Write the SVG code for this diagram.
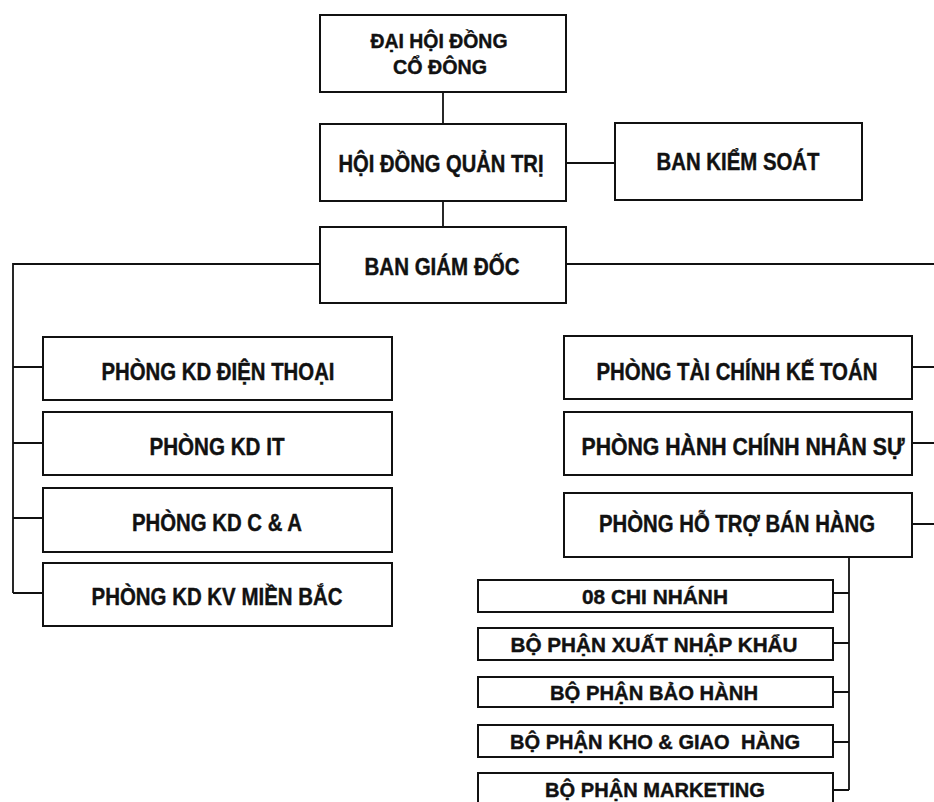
<svg xmlns="http://www.w3.org/2000/svg" width="934" height="802" viewBox="0 0 934 802">
<style>
.box{fill:#fff;stroke:#111;stroke-width:2}
.t{font-family:"Liberation Sans",Arial,sans-serif;font-weight:bold;font-size:23px;fill:#111;stroke:#111;stroke-width:0.4;text-anchor:middle;white-space:pre}
.s{font-size:21px}
.h{font-size:20px}
.c{fill:none;stroke:#111;stroke-width:1.8}
</style>
<rect width="934" height="802" fill="#fff"/>
<g id="connectors" class="c">
<path d="M443,92V124"/>
<path d="M566,163H615"/>
<path d="M443,201V227"/>
<path d="M320,264H13V593"/>
<path d="M13,367H43M13,443H43M13,518H43M13,593H43"/>
<path d="M566,264H934"/>
<path d="M912,367H934M912,443H934M912,524H934"/>
<path d="M849,557V790"/>
<path d="M833,593H849M833,643H849M833,692H849M833,742H849M833,790H849"/>
</g>
<g id="dhdcd"><rect class="box" x="320" y="15" width="246" height="77"/>
<text class="t h" x="439" y="48" textLength="137" lengthAdjust="spacingAndGlyphs">ĐẠI HỘI ĐỒNG</text>
<text class="t h" x="440" y="74" textLength="94" lengthAdjust="spacingAndGlyphs">CỔ ĐÔNG</text></g>
<g id="hdqt"><rect class="box" x="320" y="124" width="246" height="77"/>
<text class="t" x="441" y="172" textLength="205" lengthAdjust="spacingAndGlyphs">HỘI ĐỒNG QUẢN TRỊ</text></g>
<g id="bks"><rect class="box" x="615" y="123" width="247" height="77"/>
<text class="t" x="738" y="170" textLength="163" lengthAdjust="spacingAndGlyphs">BAN KIỂM SOÁT</text></g>
<g id="bgd"><rect class="box" x="320" y="227" width="246" height="76"/>
<text class="t" x="442" y="275" textLength="155" lengthAdjust="spacingAndGlyphs">BAN GIÁM ĐỐC</text></g>
<g id="kd-dt"><rect class="box" x="43" y="337" width="349" height="63"/>
<text class="t" x="218" y="380" textLength="233" lengthAdjust="spacingAndGlyphs">PHÒNG KD ĐIỆN THOẠI</text></g>
<g id="kd-it"><rect class="box" x="43" y="412" width="349" height="63"/>
<text class="t" x="217" y="455" textLength="135" lengthAdjust="spacingAndGlyphs">PHÒNG KD IT</text></g>
<g id="kd-ca"><rect class="box" x="43" y="488" width="349" height="64"/>
<text class="t" x="217" y="531" textLength="170" lengthAdjust="spacingAndGlyphs">PHÒNG KD C &amp; A</text></g>
<g id="kd-mb"><rect class="box" x="43" y="563" width="349" height="63"/>
<text class="t" x="217" y="605" textLength="251" lengthAdjust="spacingAndGlyphs">PHÒNG KD KV MIỀN BẮC</text></g>
<g id="tckt"><rect class="box" x="564" y="336" width="348" height="63"/>
<text class="t" x="737" y="380" textLength="281" lengthAdjust="spacingAndGlyphs">PHÒNG TÀI CHÍNH KẾ TOÁN</text></g>
<g id="hcns"><rect class="box" x="564" y="412" width="348" height="63"/>
<text class="t" x="743" y="455" textLength="323" lengthAdjust="spacingAndGlyphs">PHÒNG HÀNH CHÍNH NHÂN SỰ</text></g>
<g id="htbh"><rect class="box" x="564" y="493" width="348" height="64"/>
<text class="t" x="737" y="532" textLength="276" lengthAdjust="spacingAndGlyphs">PHÒNG HỖ TRỢ BÁN HÀNG</text></g>
<g id="cn"><rect class="box" x="478" y="580" width="355" height="32"/>
<text class="t s" x="655" y="604" textLength="146" lengthAdjust="spacingAndGlyphs">08 CHI NHÁNH</text></g>
<g id="xnk"><rect class="box" x="478" y="628" width="355" height="32"/>
<text class="t s" x="654" y="652" textLength="287" lengthAdjust="spacingAndGlyphs">BỘ PHẬN XUẤT NHẬP KHẨU</text></g>
<g id="bh"><rect class="box" x="478" y="677" width="355" height="30"/>
<text class="t s" x="654" y="700" textLength="208" lengthAdjust="spacingAndGlyphs">BỘ PHẬN BẢO HÀNH</text></g>
<g id="kho"><rect class="box" x="478" y="725" width="355" height="32"/>
<text class="t s" x="655" y="749" textLength="290" lengthAdjust="spacingAndGlyphs">BỘ PHẬN KHO &amp; GIAO  HÀNG</text></g>
<g id="mkt"><rect class="box" x="478" y="773" width="355" height="34"/>
<text class="t s" x="655" y="797" textLength="220" lengthAdjust="spacingAndGlyphs">BỘ PHẬN MARKETING</text></g>
</svg>
